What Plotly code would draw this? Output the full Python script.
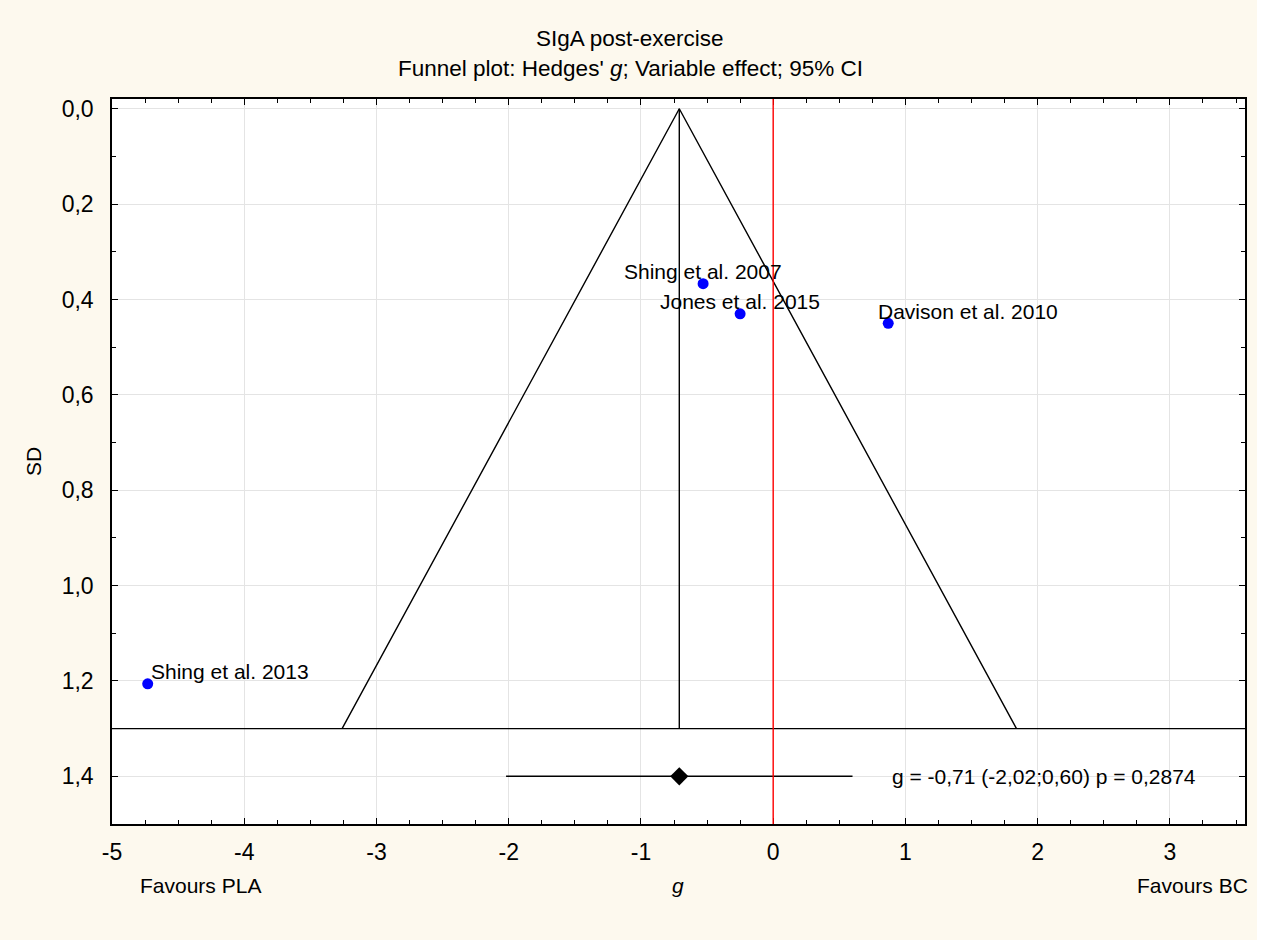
import plotly.graph_objects as go

# ---- data ----
studies = ["Shing et al. 2007", "Jones et al. 2015", "Davison et al. 2010", "Shing et al. 2013"]
effect_g = [-0.53, -0.25, 0.87, -4.73]
effect_sd = [0.367, 0.430, 0.450, 1.206]

pooled_g = -0.71
pooled_lo = -2.02
pooled_hi = 0.60
pooled_row = 1.4
pooled_text = "g = -0,71 (-2,02;0,60) p = 0,2874"

funnel_x = [-3.26, -0.71, 1.84]
funnel_y = [1.3, 0.0, 1.3]
funnel_base = 1.3

x_ticks = [-5, -4, -3, -2, -1, 0, 1, 2, 3]
x_ticklabels = ["-5", "-4", "-3", "-2", "-1", "0", "1", "2", "3"]
y_ticks = [0.0, 0.2, 0.4, 0.6, 0.8, 1.0, 1.2, 1.4]
y_ticklabels = ["0,0", "0,2", "0,4", "0,6", "0,8", "1,0", "1,2", "1,4"]

title_line1 = "SIgA post-exercise"
title_line2 = "Funnel plot: Hedges' <i>g</i>; Variable effect; 95% CI"

# ---- label style (placement only) ----
label_anchor = ["center", "center", "left", "left"]
label_xshift = [0, 0, -12, 1]
label_yshift = [12, 12, 12, 12]

FONT = "Liberation Sans, Arial, sans-serif"
BG = "#FDF9EE"

W, H = 1267, 940
L, R, T, B = 112, 22, 99, 116
pw, ph = W - L - R, H - T - B


def px_x(x):
    return (x - L) / pw


def px_y(y):
    return (H - y - B) / ph


fig = go.Figure()

# funnel
fig.add_trace(go.Scatter(x=funnel_x, y=funnel_y, mode="lines",
                         line=dict(color="black", width=1.4), hoverinfo="skip"))
# vertical line at pooled estimate
fig.add_trace(go.Scatter(x=[pooled_g, pooled_g], y=[funnel_y[1], funnel_base], mode="lines",
                         line=dict(color="black", width=1.4), hoverinfo="skip"))
# CI line
fig.add_trace(go.Scatter(x=[pooled_lo, pooled_hi], y=[pooled_row, pooled_row], mode="lines",
                         line=dict(color="black", width=1.4), hoverinfo="skip"))
# pooled diamond
fig.add_trace(go.Scatter(x=[pooled_g], y=[pooled_row], mode="markers",
                         marker=dict(symbol="diamond", size=14, color="black"), hoverinfo="skip"))
# studies
fig.add_trace(go.Scatter(x=effect_g, y=effect_sd, mode="markers", text=studies,
                         marker=dict(color="#0000FF", size=11)))

for s, gx, sy, anc, xs, ys in zip(studies, effect_g, effect_sd, label_anchor, label_xshift, label_yshift):
    fig.add_annotation(x=gx, y=sy, text=s, showarrow=False, xanchor=anc, yanchor="middle",
                       xshift=xs, yshift=ys, font=dict(family=FONT, size=21, color="black"))

fig.add_annotation(x=pooled_hi, y=pooled_row, text=pooled_text, showarrow=False, xanchor="left",
                   yanchor="middle", xshift=37, font=dict(family=FONT, size=21, color="black"))

# horizontal base line and red zero line
fig.add_shape(type="line", xref="paper", yref="y", x0=0, x1=1, y0=funnel_base, y1=funnel_base,
              line=dict(color="black", width=1.4))
fig.add_shape(type="line", xref="x", yref="paper", x0=0, x1=0, y0=0, y1=1,
              line=dict(color="#FF0000", width=1.4))

# bottom labels
for txt, px, anc in [("Favours PLA", 138, "left"), ("<i>g</i>", 678, "center"),
                     ("Favours BC", 1250, "right")]:
    fig.add_annotation(x=px_x(px), y=px_y(885), xref="paper", yref="paper", text=txt,
                       showarrow=False, xanchor=anc, yanchor="middle",
                       font=dict(family=FONT, size=21, color="black"))

# title lines
for txt, py in [(title_line1, 38), (title_line2, 68)]:
    fig.add_annotation(x=px_x(630), y=px_y(py), xref="paper", yref="paper", text=txt,
                       showarrow=False, xanchor="center", yanchor="middle",
                       font=dict(family=FONT, size=22.5, color="black"))

# white strip on the far right
fig.add_shape(type="rect", xref="paper", yref="paper", x0=px_x(1257), x1=px_x(W + 5),
              y0=px_y(H + 5), y1=px_y(-5), fillcolor="white", line=dict(width=0), layer="above")

axis_common = dict(showline=True, linecolor="black", linewidth=1.5, mirror="allticks",
                   ticks="inside", ticklen=6, tickcolor="black", tickwidth=1,
                   showgrid=True, gridcolor="#E4E4E4", gridwidth=1, zeroline=False,
                   tickfont=dict(family=FONT, size=23, color="black"))

fig.update_layout(
    width=W, height=H,
    margin=dict(l=L, r=R, t=T, b=B),
    paper_bgcolor=BG, plot_bgcolor="white",
    showlegend=False,
    xaxis=dict(range=[-5, 3.568], tickvals=x_ticks, ticktext=x_ticklabels,
               minor=dict(dtick=0.25, ticks="inside", ticklen=4, tickcolor="black", showgrid=False),
               ticklabelstandoff=7, **axis_common),
    yaxis=dict(range=[1.5, -0.0204], tickvals=y_ticks, ticktext=y_ticklabels,
               minor=dict(dtick=0.1, ticks="inside", ticklen=4, tickcolor="black", showgrid=False),
               ticklabelstandoff=12,
               title=dict(text="SD", font=dict(family=FONT, size=21, color="black"), standoff=14),
               **axis_common),
)

fig.write_html("out.html", config={"displayModeBar": False},
               post_script="document.body.style.margin='0';")
